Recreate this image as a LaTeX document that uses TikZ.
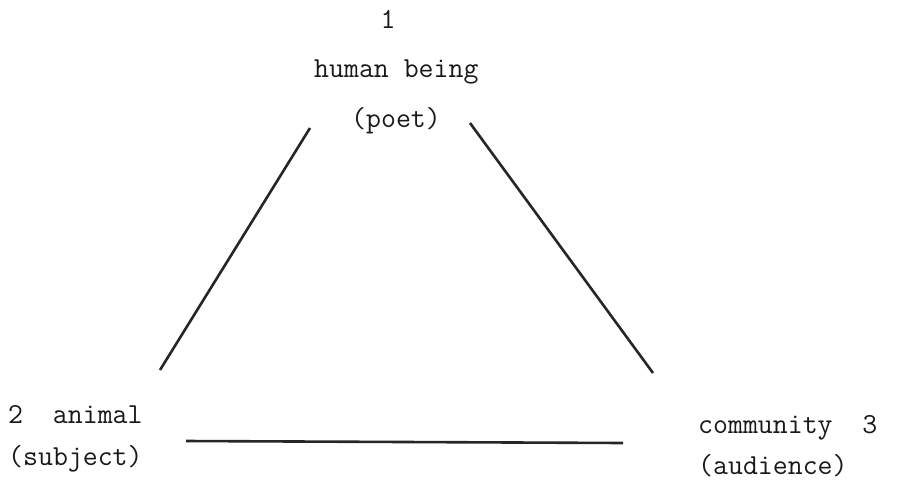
\documentclass[tikz,border=0pt]{standalone}
\begin{document}
\begin{tikzpicture}[x=1pt,y=-1pt,
  lbl/.style={inner sep=0pt,font=\fontsize{29}{33}\ttfamily,text=black!90},
  edge/.style={line width=2.6pt,black!85}]
\useasboundingbox (0,0) rectangle (897,485);
\node[lbl,anchor=base] (n1) at (388,28) {1};
\node[lbl,anchor=base west] (hb) at (314,77) {human being};
\node[lbl,anchor=base west] (poet) at (351,127) {(poet)};
\node[lbl,anchor=base west] (an) at (8,423) {2\ \ animal};
\node[lbl,anchor=base west] (subj) at (8,465) {(subject)};
\node[lbl,anchor=base west] (com) at (698,433) {community\ \ 3};
\node[lbl,anchor=base west] (aud) at (698,474) {(audience)};
\coordinate (a1) at (310,128);
\coordinate (a2) at (160,370);
\coordinate (b1) at (470,123);
\coordinate (b2) at (653,373);
\coordinate (c1) at (186,441);
\coordinate (c2) at (623,443);
\draw[edge] (a1) -- (a2);
\draw[edge] (b1) -- (b2);
\draw[edge] (c1) -- (c2);
\end{tikzpicture}
\end{document}
